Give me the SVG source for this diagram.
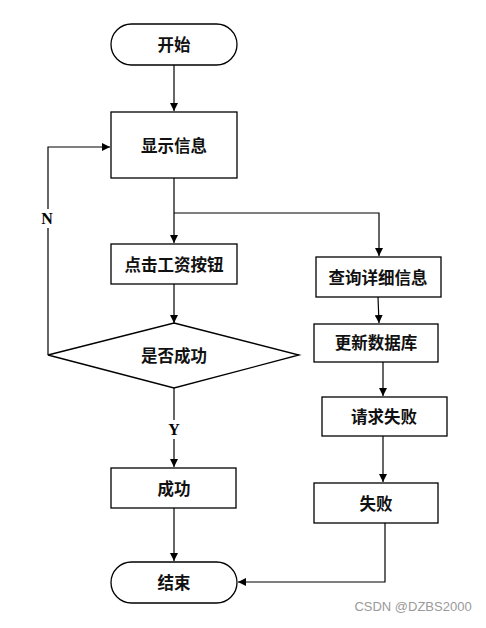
<svg xmlns="http://www.w3.org/2000/svg" width="486" height="628" viewBox="0 0 486 628">
<style>
.n{fill:#fff;stroke:#000;stroke-width:1.3}
.t{font-family:"Noto Sans CJK SC","Noto Sans",sans-serif;font-size:16.5px;font-weight:700;fill:#111;text-anchor:middle;dominant-baseline:central}
.c{fill:none;stroke:#000;stroke-width:1.2}
.l{font-family:"Liberation Serif",serif;font-size:16px;font-weight:700;fill:#000;text-anchor:middle;dominant-baseline:central}
.bg{fill:#fff}
</style>
<defs>
<marker id="a" viewBox="0 0 10 10" refX="10" refY="5" markerWidth="8" markerHeight="8" markerUnits="userSpaceOnUse" orient="auto">
<path d="M0,0 L10,5 L0,10 z" fill="#000"/>
</marker>
</defs>
<rect width="486" height="628" fill="#fff"/>
<g id="connectors">
<path class="c" d="M174,65 V111" marker-end="url(#a)"/>
<path class="c" d="M174,178 V243" marker-end="url(#a)"/>
<path class="c" d="M174,213 H379 V256" marker-end="url(#a)"/>
<path class="c" d="M174,284 V323" marker-end="url(#a)"/>
<path class="c" d="M48,355 V147 H110" marker-end="url(#a)"/>
<path class="c" d="M174,388 V467" marker-end="url(#a)"/>
<path class="c" d="M174,508 V561" marker-end="url(#a)"/>
<path class="c" d="M378,297 L379,323" marker-end="url(#a)"/>
<path class="c" d="M383,362 V396" marker-end="url(#a)"/>
<path class="c" d="M383,436 V482" marker-end="url(#a)"/>
<path class="c" d="M385,523 V582 H238" marker-end="url(#a)"/>
<rect class="bg" x="40" y="209" width="16" height="19"/>
<text class="l" x="47" y="218">N</text>
<rect class="bg" x="166" y="420" width="16" height="19"/>
<text class="l" x="174" y="429">Y</text>
</g>
<g id="start"><rect class="n" x="111" y="24" width="126" height="41" rx="20.5"/><text class="t" x="174" y="44">开始</text></g>
<g id="show"><rect class="n" x="111" y="112" width="126" height="66"/><text class="t" x="174" y="145">显示信息</text></g>
<g id="click"><rect class="n" x="111" y="244" width="126" height="40"/><text class="t" x="174" y="264">点击工资按钮</text></g>
<g id="decide"><polygon class="n" points="174,323 299,355 174,388 48,355"/><text class="t" x="174" y="355">是否成功</text></g>
<g id="success"><rect class="n" x="111" y="468" width="125" height="40"/><text class="t" x="174" y="488">成功</text></g>
<g id="end"><rect class="n" x="111" y="562" width="126" height="41" rx="20.5"/><text class="t" x="174" y="582">结束</text></g>
<g id="query"><rect class="n" x="316" y="257" width="125" height="40"/><text class="t" x="378" y="277">查询详细信息</text></g>
<g id="update"><rect class="n" x="314" y="324" width="124" height="38"/><text class="t" x="376" y="342">更新数据库</text></g>
<g id="reqfail"><rect class="n" x="322" y="397" width="125" height="39"/><text class="t" x="384" y="416">请求失败</text></g>
<g id="fail"><rect class="n" x="314" y="483" width="124" height="40"/><text class="t" x="376" y="503">失败</text></g>
<text x="413" y="611" style="font-family:'Liberation Sans',sans-serif;font-size:13px;fill:#9a9a9a;text-anchor:middle">CSDN @DZBS2000</text>
</svg>
